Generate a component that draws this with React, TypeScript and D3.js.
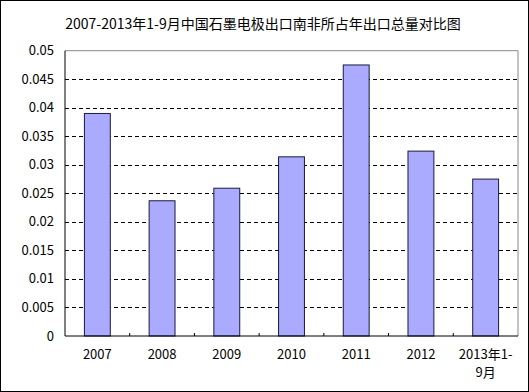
import React from "react";
import * as d3 from "d3";

const categories = ["2007", "2008", "2009", "2010", "2011", "2012", "2013年1-9月"];
const categoryLines = [["2007"], ["2008"], ["2009"], ["2010"], ["2011"], ["2012"], ["2013年1-", "9月"]];
const values = [0.039, 0.0237, 0.0259, 0.0314, 0.0475, 0.0324, 0.0275];
const yTicks = [0, 0.005, 0.01, 0.015, 0.02, 0.025, 0.03, 0.035, 0.04, 0.045, 0.05];
const yTickLabels = ["0", "0.005", "0.01", "0.015", "0.02", "0.025", "0.03", "0.035", "0.04", "0.045", "0.05"];
const title = "2007-2013年1-9月中国石墨电极出口南非所占年出口总量对比图";

const W = 529;
const H = 392;
const left = 65;
const right = 518;
const top = 50.7;
const bottom = 336;
const FONT = "SimSun, 'Noto Sans CJK SC', sans-serif";

export default function App() {
  const x = d3.scaleBand<string>().domain(categories).range([left, right]).paddingInner(0.6).paddingOuter(0.3);
  const band = d3.scaleBand<string>().domain(categories).range([left, right]);
  const y = d3.scaleLinear().domain([0, 0.05]).range([bottom, top]);

  return (
    <svg width={W} height={H} style={{ position: "absolute", left: 0, top: 0, background: "#fff" }}>
      <rect x={0} y={0} width={W} height={H} fill="#fff" />
      <rect x={0.5} y={0.5} width={W - 1} height={H - 1} fill="none" stroke="#000" />
      <text x={263} y={29} textAnchor="middle" fontFamily={FONT} fontSize={14} fill="#000">
        {title}
      </text>
      {/* plot frame */}
      <line x1={left} x2={right} y1={top} y2={top} stroke="#888" />
      <line x1={right} x2={right} y1={top} y2={bottom} stroke="#888" />
      {/* gridlines */}
      {yTicks.filter((t) => t > 0 && t < 0.05).map((t) => (
        <line key={t} x1={left} x2={right} y1={Math.round(y(t)) + 0.5} y2={Math.round(y(t)) + 0.5}
          stroke="#000" strokeDasharray="4,3" />
      ))}
      {/* y tick labels */}
      {yTicks.map((t, i) => (
        <text key={t} x={54} y={y(t)} dy="0.35em" textAnchor="end" fontFamily={FONT} fontSize={13} fill="#000">
          {yTickLabels[i]}
        </text>
      ))}
      {/* bars */}
      {categories.map((c, i) => (
        <rect key={c} x={x(c)!} y={y(values[i])} width={x.bandwidth()} height={bottom - y(values[i])}
          fill="#aaaaff" stroke="#1a1a40" strokeWidth={1} />
      ))}
      {/* x tick marks */}
      {categories.slice(1).map((c) => (
        <line key={c} x1={band(c)!} x2={band(c)!} y1={bottom} y2={bottom - 3} stroke="#000" />
      ))}
      {/* axes */}
      <line x1={left} x2={left} y1={top} y2={bottom} stroke="#000" />
      <line x1={left} x2={right} y1={bottom} y2={bottom} stroke="#000" />
      {/* x labels */}
      {categories.map((c, i) => (
        <text key={c} textAnchor="middle" fontFamily={FONT} fontSize={13} fill="#000">
          {categoryLines[i].map((ln, j) => (
            <tspan key={j} x={band(c)! + band.bandwidth() / 2} y={359 + j * 18}>{ln}</tspan>
          ))}
        </text>
      ))}
    </svg>
  );
}
